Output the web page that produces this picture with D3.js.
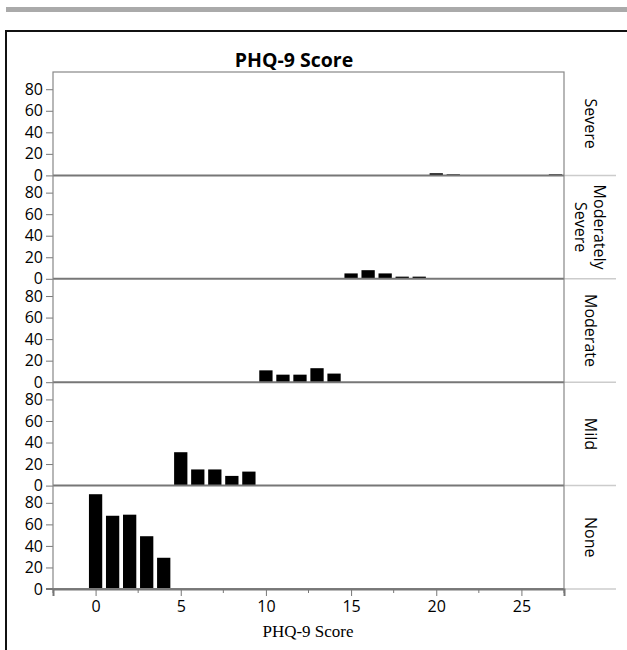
<!DOCTYPE html>
<html><head><meta charset="utf-8">
<script src="https://cdn.jsdelivr.net/npm/d3@7"></script>
<style>body{margin:0;background:#fff}svg{display:block}</style>
</head><body>
<svg id="c" width="627" height="650"></svg>
<script>
const panels = ["Severe", "Moderately Severe", "Moderate", "Mild", "None"];
const scores = {
  "Severe": [20, 21, 27],
  "Moderately Severe": [15, 16, 17, 18, 19],
  "Moderate": [10, 11, 12, 13, 14],
  "Mild": [5, 6, 7, 8, 9],
  "None": [0, 1, 2, 3, 4]
};
const counts = {
  "Severe": [2, 1, 1],
  "Moderately Severe": [5, 8, 5, 2, 2],
  "Moderate": [11, 7, 7, 13, 8],
  "Mild": [31, 15, 15, 9, 13],
  "None": [88, 68, 69, 49, 29]
};
const yTicks = [0, 20, 40, 60, 80];
const xTicks = [0, 5, 10, 15, 20, 25];
const xMinorTicks = [-2.5, 2.5, 7.5, 12.5, 17.5, 22.5, 27.5];

(function () {
const svg = d3.select("#c");
const pLeft = 53, pRight = 564, pTop = 72, pBottom = 589;
const ph = (pBottom - pTop) / panels.length;
const font = "'Open Sans', 'Noto Sans', sans-serif";

svg.append("rect").attr("x", 6).attr("y", 7).attr("width", 621).attr("height", 5).attr("fill", "#aaa");
svg.append("path").attr("d", "M6,651V31H628").attr("fill", "none").attr("stroke", "#111").attr("stroke-width", 2);

svg.append("text").attr("x", 294).attr("y", 67).attr("text-anchor", "middle")
  .attr("font-family", font).attr("font-weight", "bold").attr("font-size", 19.5).text("PHQ-9 Score");

const x = d3.scaleLinear().domain([-2.5, 27.5]).range([pLeft, pRight]);
const bw = x(0.78) - x(0);

panels.forEach((p, i) => {
  const y0 = pTop + i * ph;
  const y = d3.scaleLinear().domain([0, 96]).range([y0 + ph, y0]);
  const g = svg.append("g");
  g.selectAll("rect.bar").data(scores[p].map((s, j) => ({s, c: counts[p][j]}))).join("rect")
    .attr("x", d => x(d.s) - bw / 2).attr("width", bw)
    .attr("y", d => y(d.c)).attr("height", d => y(0) - y(d.c)).attr("fill", "#000");
  const ay = g.append("g").attr("transform", `translate(${pLeft},0)`)
    .call(d3.axisLeft(y).tickValues(yTicks).tickSize(7).tickPadding(3));
  ay.select(".domain").remove();
  ay.selectAll("line").attr("stroke", "#777");
  ay.selectAll("text").attr("font-family", font).attr("font-size", 16).attr("fill", "#000");
  g.append("line").attr("x1", pRight).attr("x2", 616).attr("y1", y0 + ph).attr("y2", y0 + ph)
    .attr("stroke", "#ccc").attr("stroke-width", 1.5);
  g.append("line").attr("x1", pLeft).attr("x2", pRight).attr("y1", y0 + ph).attr("y2", y0 + ph)
    .attr("stroke", "#777").attr("stroke-width", 2);
  const cx = 590, cy = y0 + ph / 2;
  const lines = p === "Moderately Severe" ? ["Moderately", "Severe"] : [p];
  const t = g.append("text").attr("transform", `translate(${cx},${cy}) rotate(90)`)
    .attr("text-anchor", "middle").attr("font-family", font).attr("font-size", 16).attr("fill", "#000");
  lines.forEach((l, k) => {
    t.append("tspan").attr("x", 0).attr("y", (k - (lines.length - 1) / 2) * 19 + 5.5).text(l);
  });
});

svg.append("rect").attr("x", pLeft).attr("y", pTop).attr("width", pRight - pLeft).attr("height", pBottom - pTop)
  .attr("fill", "none").attr("stroke", "#888").attr("stroke-width", 1.2);

const ax = svg.append("g").attr("transform", `translate(0,${pBottom})`)
  .call(d3.axisBottom(x).tickValues(xTicks).tickSize(7).tickPadding(5));
ax.select(".domain").attr("stroke", "#777").attr("stroke-width", 2);
ax.selectAll("line").attr("stroke", "#777");
ax.selectAll("text").attr("font-family", font).attr("font-size", 16).attr("fill", "#000");
svg.append("g").selectAll("line").data(xMinorTicks).join("line")
  .attr("x1", d => x(d)).attr("x2", d => x(d)).attr("y1", pBottom).attr("y2", pBottom + 4).attr("stroke", "#777");
svg.append("line").attr("x1", 46).attr("x2", pLeft).attr("y1", pBottom).attr("y2", pBottom).attr("stroke", "#777").attr("stroke-width", 2);

svg.append("text").attr("x", 308).attr("y", 637).attr("text-anchor", "middle")
  .attr("font-family", "'Liberation Serif', 'DejaVu Serif', serif").attr("font-size", 17).text("PHQ-9 Score");
})();
</script>
</body></html>
